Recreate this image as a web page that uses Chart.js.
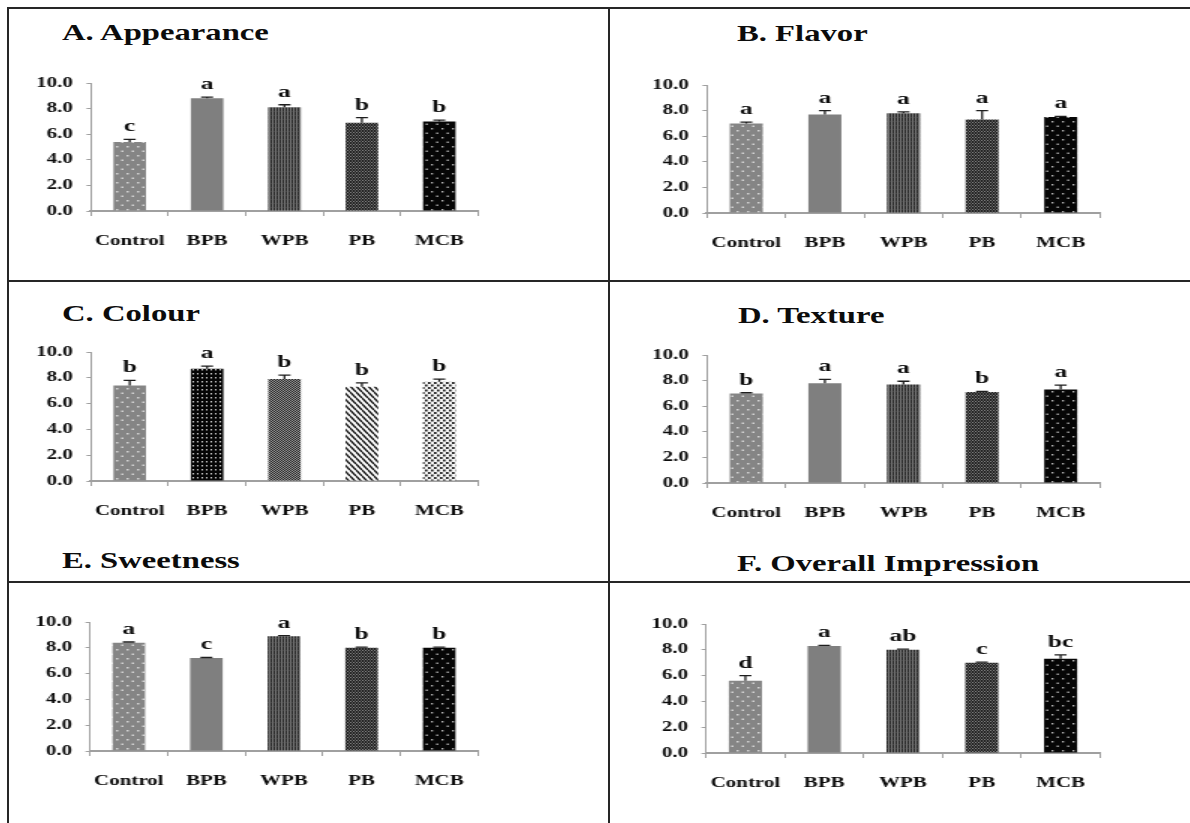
<!DOCTYPE html>
<html>
<head>
<meta charset="utf-8">
<title>Sensory evaluation of breads</title>
<script src="https://cdn.jsdelivr.net/npm/chart.js@4.4.1/dist/chart.umd.min.js"></script>
<style>
  html, body { margin: 0; padding: 0; background: #ffffff; }
  #figure { position: relative; width: 1190px; height: 823px; overflow: hidden; background: #ffffff; }
  .rule { position: absolute; background: #262626; }
  .panel { position: absolute; transform-origin: 0 0; }
  .panel canvas { display: block; }
  .title {
    position: absolute; white-space: nowrap; transform-origin: 0 0;
    font-family: "Liberation Serif", "Times New Roman", serif; font-weight: bold;
    font-size: 23px; line-height: 23px; color: #0c0c0c;
  }
</style>
</head>
<body>
<div id="figure"></div>
<script>
// ---- data ----------------------------------------------------------------
const categories = ['Control', 'BPB', 'WPB', 'PB', 'MCB'];
const yTickValues = [0, 2, 4, 6, 8, 10];

const appearanceMeans   = [5.4, 8.8, 8.1, 6.9, 7.0];
const appearanceErrors  = [0.2, 0.1, 0.2, 0.4, 0.1];
const appearanceLetters = ['c', 'a', 'a', 'b', 'b'];

const flavorMeans   = [7.0, 7.7, 7.8, 7.3, 7.5];
const flavorErrors  = [0.1, 0.3, 0.1, 0.7, 0.05];
const flavorLetters = ['a', 'a', 'a', 'a', 'a'];

const colourMeans   = [7.4, 8.7, 7.9, 7.3, 7.7];
const colourErrors  = [0.4, 0.2, 0.3, 0.3, 0.2];
const colourLetters = ['b', 'a', 'b', 'b', 'b'];

const textureMeans   = [7.0, 7.8, 7.7, 7.1, 7.3];
const textureErrors  = [0.05, 0.3, 0.25, 0.05, 0.35];
const textureLetters = ['b', 'a', 'a', 'b', 'a'];

const sweetnessMeans   = [8.4, 7.2, 8.9, 8.0, 8.0];
const sweetnessErrors  = [0.05, 0.05, 0.05, 0.05, 0.05];
const sweetnessLetters = ['a', 'c', 'a', 'b', 'b'];

const overallMeans   = [5.6, 8.3, 8.0, 7.0, 7.3];
const overallErrors  = [0.4, 0.05, 0.05, 0.05, 0.3];
const overallLetters = ['d', 'a', 'ab', 'c', 'bc'];

const panelTitles = ['A. Appearance', 'B. Flavor', 'C. Colour', 'D. Texture', 'E. Sweetness', 'F. Overall Impression'];

// ---- page layout ---------------------------------------------------------
const STRETCH = 1.5;        // horizontal widening of each plot
const TITLE_STRETCH = 1.42;
const CANVAS_W = 360;       // canvas width before widening
const TOP_PAD = 20;
const X_AXIS_H = 50;

// plot rectangles on the page (left, right, top, bottom) and title anchors
const frames = [
  { wrap: 20,  left: 91,  right: 478,  top: 83,  bottom: 211, tx: 62,  ty: 32.5 },
  { wrap: 630, left: 707, right: 1100, top: 85,  bottom: 213, tx: 737, ty: 33 },
  { wrap: 20,  left: 91,  right: 478,  top: 352, bottom: 481, tx: 62,  ty: 313 },
  { wrap: 630, left: 707, right: 1100, top: 355, bottom: 483, tx: 738, ty: 315 },
  { wrap: 20,  left: 90,  right: 478,  top: 622, bottom: 751, tx: 62,  ty: 560 },
  { wrap: 630, left: 706, right: 1100, top: 624, bottom: 753, tx: 737, ty: 563 }
];

// ---- bar fills -----------------------------------------------------------
function makePattern(w, h, paint) {
  const c = document.createElement('canvas');
  c.width = w; c.height = h;
  const g = c.getContext('2d');
  paint(g, w, h);
  return g.createPattern(c, 'repeat');
}

const fillGreyDots = makePattern(7, 9, (g, w, h) => {
  g.fillStyle = '#858585'; g.fillRect(0, 0, w, h);
  g.fillStyle = '#d6d6d6';
  g.fillRect(1, 2, 1.5, 1.5);
  g.fillRect(4.5, 6.5, 1.5, 1.5);
});
const fillSolidGrey = '#7f7f7f';
const fillVertStripes = makePattern(2, 4, (g, w, h) => {
  g.fillStyle = '#2a2a2a'; g.fillRect(0, 0, w, h);
  g.fillStyle = '#8c8c8c'; g.fillRect(0, 0, 0.8, h);
  g.fillStyle = '#4a4a4a'; g.fillRect(0.8, 0, 1.2, 0.7);
});
const fillDenseDots = makePattern(2, 3, (g, w, h) => {
  g.fillStyle = '#1c1c1c'; g.fillRect(0, 0, w, h);
  g.fillStyle = '#a8a8a8';
  g.fillRect(0, 0, 0.8, 1);
  g.fillRect(1, 1.5, 0.8, 1);
});
const fillBlackDots = makePattern(7, 9, (g, w, h) => {
  g.fillStyle = '#060606'; g.fillRect(0, 0, w, h);
  g.fillStyle = '#b8b8b8';
  g.fillRect(1, 2, 1.3, 1.5);
  g.fillRect(4.5, 6.5, 1.3, 1.5);
});
const fillBlackGrid = makePattern(3, 4, (g, w, h) => {
  g.fillStyle = '#050505'; g.fillRect(0, 0, w, h);
  g.fillStyle = '#d0d0d0'; g.fillRect(1, 1, 1, 1.5);
});
const fillWeave = makePattern(2, 2, (g, w, h) => {
  g.fillStyle = '#9a9a9a'; g.fillRect(0, 0, w, h);
  g.fillStyle = '#222222';
  g.fillRect(0, 0, 1, 1);
  g.fillRect(1, 1, 1, 1);
});
const fillDiagonal = makePattern(4, 6, (g, w, h) => {
  g.fillStyle = '#ffffff'; g.fillRect(0, 0, w, h);
  g.strokeStyle = '#111111'; g.lineWidth = 1.4;
  g.beginPath();
  g.moveTo(0, 0); g.lineTo(w, h);
  g.moveTo(-w, 0); g.lineTo(0, h);
  g.moveTo(0, -h); g.lineTo(w, 0);
  g.stroke();
});
const fillWhiteSpots = makePattern(4, 5, (g, w, h) => {
  g.fillStyle = '#f6f6f6'; g.fillRect(0, 0, w, h);
  g.fillStyle = '#151515';
  g.fillRect(0, 0, 1.6, 2);
  g.fillRect(2, 2.5, 1.6, 2);
});

const standardFills = [fillGreyDots, fillSolidGrey, fillVertStripes, fillDenseDots, fillBlackDots];
const colourFills   = [fillGreyDots, fillBlackGrid, fillWeave, fillDiagonal, fillWhiteSpots];

const panels = [
  { means: appearanceMeans, errors: appearanceErrors, letters: appearanceLetters, fills: standardFills },
  { means: flavorMeans,     errors: flavorErrors,     letters: flavorLetters,     fills: standardFills },
  { means: colourMeans,     errors: colourErrors,     letters: colourLetters,     fills: colourFills },
  { means: textureMeans,    errors: textureErrors,    letters: textureLetters,    fills: standardFills },
  { means: sweetnessMeans,  errors: sweetnessErrors,  letters: sweetnessLetters,  fills: standardFills },
  { means: overallMeans,    errors: overallErrors,    letters: overallLetters,    fills: standardFills }
];

// ---- error bars and significance letters ---------------------------------
const errorLetterPlugin = {
  id: 'errorLetters',
  afterDatasetsDraw(chart) {
    const ctx = chart.ctx;
    const yScale = chart.scales.y;
    const ds = chart.data.datasets[0];
    chart.getDatasetMeta(0).data.forEach((bar, i) => {
      const mean = ds.data[i];
      const top = yScale.getPixelForValue(mean + ds.errors[i]);
      const base = yScale.getPixelForValue(mean);
      ctx.save();
      ctx.strokeStyle = '#1e1e1e';
      ctx.lineWidth = 1.3;
      ctx.beginPath();
      ctx.moveTo(bar.x, base);
      ctx.lineTo(bar.x, top);
      ctx.moveTo(bar.x - 4, top);
      ctx.lineTo(bar.x + 4, top);
      ctx.stroke();
      ctx.fillStyle = '#0c0c0c';
      ctx.font = 'bold 17px "Liberation Serif", "Times New Roman", serif';
      ctx.textAlign = 'center';
      ctx.textBaseline = 'alphabetic';
      ctx.fillText(ds.letters[i], bar.x, top - 8);
      ctx.restore();
    });
  }
};

Chart.defaults.font.family = '"Liberation Serif", "Times New Roman", serif';
Chart.defaults.font.weight = 'bold';
Chart.defaults.color = '#0c0c0c';

// ---- frame rules ---------------------------------------------------------
const figure = document.getElementById('figure');
function rule(x, y, w, h) {
  const d = document.createElement('div');
  d.className = 'rule';
  Object.assign(d.style, { left: x + 'px', top: y + 'px', width: w + 'px', height: h + 'px' });
  figure.appendChild(d);
}
rule(7, 7, 1183, 2);     // top edge
rule(7, 7, 2, 816);      // left edge
rule(608, 7, 2, 816);    // centre divider
rule(7, 280, 1183, 2);   // first row divider
rule(7, 581, 1183, 2);   // second row divider

// ---- panels --------------------------------------------------------------
panels.forEach((p, k) => {
  const f = frames[k];
  const plotH = f.bottom - f.top;
  const axisW = (f.left - f.wrap) / STRETCH;
  const areaW = (f.right - f.left) / STRETCH;
  const rightPad = CANVAS_W - axisW - areaW;

  const title = document.createElement('div');
  title.className = 'title';
  title.textContent = panelTitles[k];
  title.style.left = f.tx + 'px';
  title.style.top = (f.ty - 11.5) + 'px';
  title.style.transform = 'scaleX(' + TITLE_STRETCH + ')';
  figure.appendChild(title);

  const wrap = document.createElement('div');
  wrap.className = 'panel';
  wrap.style.left = f.wrap + 'px';
  wrap.style.top = (f.top - TOP_PAD) + 'px';
  wrap.style.transform = 'scaleX(' + STRETCH + ')';
  const canvas = document.createElement('canvas');
  canvas.width = CANVAS_W;
  canvas.height = TOP_PAD + plotH + X_AXIS_H;
  wrap.appendChild(canvas);
  figure.appendChild(wrap);

  new Chart(canvas, {
    type: 'bar',
    data: {
      labels: categories,
      datasets: [{
        data: p.means,
        errors: p.errors,
        letters: p.letters,
        backgroundColor: p.fills,
        borderWidth: 0,
        barPercentage: 0.42,
        categoryPercentage: 1
      }]
    },
    options: {
      responsive: false,
      animation: false,
      devicePixelRatio: 1,
      layout: { padding: { left: 0, right: rightPad, top: TOP_PAD, bottom: 0 } },
      plugins: {
        legend: { display: false },
        tooltip: { enabled: false },
        title: { display: false }
      },
      scales: {
        x: {
          grid: { drawOnChartArea: false, drawTicks: true, tickLength: 5, color: '#a0a0a0', offset: true },
          border: { color: '#a0a0a0', width: 2 },
          ticks: { font: { size: 14, weight: 'bold' }, color: '#0c0c0c', padding: 17, maxRotation: 0, autoSkip: false },
          afterFit(scale) { scale.height = X_AXIS_H; }
        },
        y: {
          min: 0,
          max: 10,
          afterBuildTicks(scale) { scale.ticks = yTickValues.map(v => ({ value: v })); },
          ticks: { callback: v => Number(v).toFixed(1), font: { size: 14, weight: 'bold' }, color: '#0c0c0c', padding: 9 },
          grid: { drawOnChartArea: false, drawTicks: true, tickLength: 3, color: '#a0a0a0' },
          border: { color: '#a0a0a0', width: 1 },
          afterFit(scale) { scale.width = axisW; }
        }
      }
    },
    plugins: [errorLetterPlugin]
  });
});
</script>
</body>
</html>
